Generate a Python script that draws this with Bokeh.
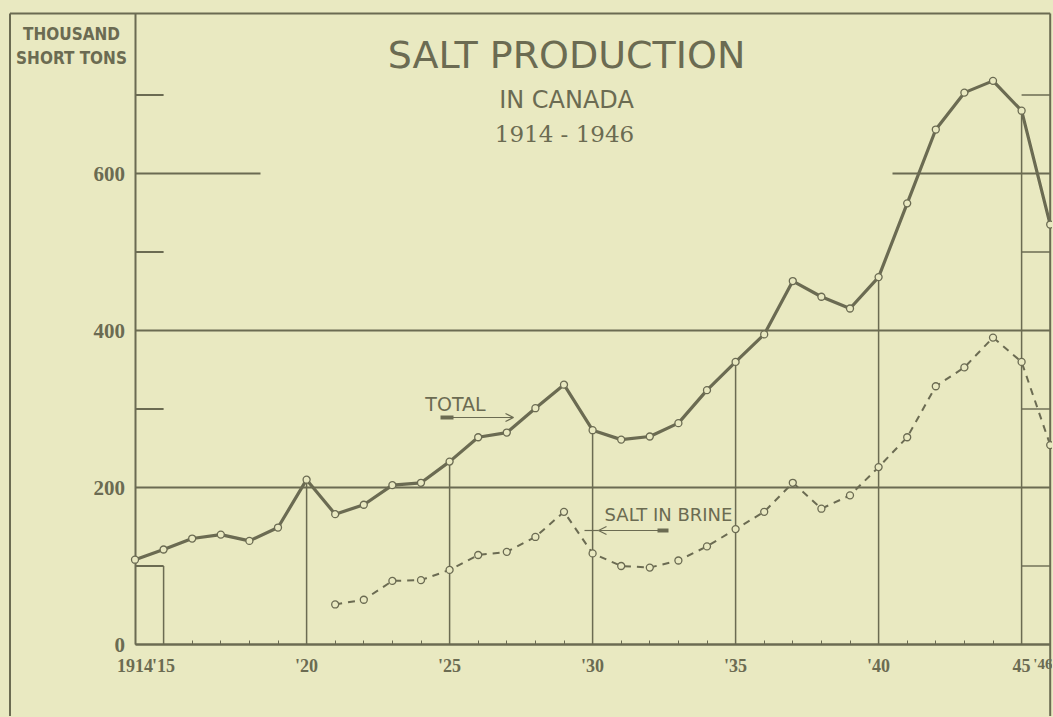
from bokeh.plotting import figure
from bokeh.models import Range1d, LinearAxis, FixedTicker, Label, Arrow, OpenHead
from bokeh.embed import file_html
from bokeh.resources import INLINE

# ---------------- data ----------------
years = list(range(1914, 1947))
total = [108, 121, 135, 140, 132, 149, 210, 166, 178, 203, 206, 233, 264, 270,
         301, 331, 273, 261, 265, 282, 324, 360, 395, 463, 443, 428, 468, 562,
         656, 703, 718, 680, 535]
brine_years = list(range(1921, 1947))
brine = [51, 57, 81, 82, 95, 114, 118, 137, 169, 116, 100, 98, 107, 125, 147,
         169, 206, 173, 190, 226, 264, 329, 353, 391, 360, 254]

y_ticks = [0, 200, 400, 600]
y_tick_labels = ["0", "200", "400", "600"]
x_ticks = [1914, 1915, 1920, 1925, 1930, 1935, 1940, 1945]
x_tick_labels = ["1914", "'15", "'20", "'25", "'30", "'35", "'40", "45"]
last_tick_label = "'46"
drop_years = [1920, 1925, 1930, 1935, 1940, 1945]
full_grid = [200, 400]
short_grid = [100, 300, 500, 700]
long_grid = 600

title_main = "SALT PRODUCTION"
title_sub = "IN CANADA"
title_years = "1914 - 1946"
unit_lines = ["THOUSAND", "SHORT TONS"]
label_total = "TOTAL"
label_brine = "SALT IN BRINE"

# ---------------- layout ----------------
BG = "#e9e9c1"
INK = "#6b6b52"
W, H = 1052, 716
X0_PX, Y0_PX = 134.5, 644.0      # canvas position of (1914, 0)
PX_YEAR, PX_UNIT = 28.6, 0.785
SANS_C = "'DejaVu Sans Condensed', 'Liberation Sans'"
SERIF = "Liberation Serif"

x_start = years[0] - X0_PX / PX_YEAR
x_end = years[0] + (W - X0_PX) / PX_YEAR
y_start = -(H - Y0_PX) / PX_UNIT
y_end = Y0_PX / PX_UNIT


def cx(px):
    return years[0] + (px - X0_PX) / PX_YEAR


def cy(py):
    return (Y0_PX - py) / PX_UNIT


top_val = cy(13)
left_border = cx(9.5)
right_border = years[-1]

p = figure(width=W, height=H, x_range=Range1d(x_start, x_end),
           y_range=Range1d(y_start, y_end), output_backend="svg",
           toolbar_location=None, x_axis_location=None, y_axis_location=None,
           min_border=0)
p.background_fill_color = BG
p.border_fill_color = BG
p.outline_line_color = None
p.grid.visible = False

# outer frame
p.segment(x0=[left_border, left_border, right_border],
          y0=[y_start, top_val, y_start],
          x1=[left_border, right_border, right_border],
          y1=[top_val, top_val, top_val], line_color=INK, line_width=2)

# rules
p.segment(x0=[years[0]] * len(full_grid), y0=full_grid,
          x1=[right_border] * len(full_grid), y1=full_grid,
          line_color=INK, line_width=2.2)
p.segment(x0=[years[0]] * len(short_grid), y0=short_grid,
          x1=[years[1]] * len(short_grid), y1=short_grid,
          line_color=INK, line_width=1.8)
p.segment(x0=[drop_years[-1]] * len(short_grid), y0=short_grid,
          x1=[right_border] * len(short_grid), y1=short_grid,
          line_color=INK, line_width=1.4)
p.segment(x0=[years[0], cx(892)], y0=[long_grid, long_grid],
          x1=[cx(260), right_border], y1=[long_grid, long_grid],
          line_color=INK, line_width=1.8)

# drop lines
drop_vals = [total[years.index(y)] for y in drop_years]
p.segment(x0=drop_years, y0=[0] * len(drop_years), x1=drop_years, y1=drop_vals,
          line_color=INK, line_width=1.5)
p.segment(x0=[years[1]], y0=[0], x1=[years[1]], y1=[short_grid[0]],
          line_color=INK, line_width=1.5)

# series
p.line(brine_years, brine, line_color=INK, line_width=2, line_dash="7 6")
p.scatter(brine_years, brine, marker="circle", size=7, fill_color=BG,
          line_color=INK, line_width=1.3)
p.line(years, total, line_color=INK, line_width=3.2)
p.scatter(years, total, marker="circle", size=7, fill_color=BG,
          line_color=INK, line_width=1.3)

# axes
yaxis = LinearAxis(fixed_location=years[0], bounds=(0, top_val),
                   ticker=FixedTicker(ticks=y_ticks),
                   major_label_overrides=dict(zip(y_ticks, y_tick_labels)),
                   axis_line_color=INK, axis_line_width=2,
                   major_tick_in=0, major_tick_out=0,
                   minor_tick_line_color=None,
                   major_label_standoff=10,
                   major_label_text_font=SERIF,
                   major_label_text_font_style="bold",
                   major_label_text_font_size="21px",
                   major_label_text_color=INK, level="underlay")
p.add_layout(yaxis, "left")

xaxis = LinearAxis(fixed_location=0, bounds=(years[0], right_border),
                   ticker=FixedTicker(ticks=x_ticks, minor_ticks=years),
                   major_label_overrides=dict(zip(x_ticks, x_tick_labels)),
                   axis_line_color=INK, axis_line_width=2.5,
                   major_tick_in=4, major_tick_out=0,
                   major_tick_line_color=INK, major_tick_line_width=1,
                   minor_tick_in=4, minor_tick_out=0,
                   minor_tick_line_color=INK, minor_tick_line_width=1,
                   major_label_standoff=11,
                   major_label_text_font=SERIF,
                   major_label_text_font_style="bold",
                   major_label_text_font_size="18px",
                   major_label_text_color=INK, level="underlay")
p.add_layout(xaxis, "below")

# last year label, smaller and tucked against the right edge as in the source
p.add_layout(Label(x=cx(1052), y=cy(655), text=last_tick_label, text_align="right",
                   text_baseline="top", text_font=SERIF, text_font_style="bold",
                   text_font_size="15px", text_color=INK))

# titles
p.add_layout(Label(x=cx(566), y=cy(54), text=title_main, text_align="center",
                   text_baseline="middle", text_font="DejaVu Sans",
                   text_font_size="38px", text_color=INK))
p.add_layout(Label(x=cx(566), y=cy(99), text=title_sub, text_align="center",
                   text_baseline="middle", text_font="DejaVu Sans",
                   text_font_size="24px", text_color=INK))
p.add_layout(Label(x=cx(564), y=cy(133), text=title_years, text_align="center",
                   text_baseline="middle", text_font="DejaVu Serif",
                   text_font_size="23px", text_color=INK))
for line, py in zip(unit_lines, [33.5, 57.5]):
    p.add_layout(Label(x=cx(71), y=cy(py), text=line, text_align="center",
                       text_baseline="middle", text_font=SANS_C,
                       text_font_style="bold", text_font_size="17px",
                       text_color=INK))

# series labels and arrows
p.add_layout(Label(x=cx(455), y=cy(403), text=label_total, text_align="center",
                   text_baseline="middle", text_font="DejaVu Sans",
                   text_font_size="19px", text_color=INK))
p.add_layout(Arrow(end=OpenHead(size=8, line_color=INK, line_width=1.2),
                   x_start=cx(450), y_start=cy(417), x_end=cx(513), y_end=cy(417),
                   line_color=INK, line_width=1.2))
p.add_layout(Arrow(end=None, x_start=cx(440), y_start=cy(417),
                   x_end=cx(453), y_end=cy(417), line_color=INK, line_width=4))

p.add_layout(Label(x=cx(668), y=cy(514), text=label_brine, text_align="center",
                   text_baseline="middle", text_font="DejaVu Sans",
                   text_font_size="18px", text_color=INK))
p.add_layout(Arrow(end=OpenHead(size=8, line_color=INK, line_width=1.2),
                   x_start=cx(660), y_start=cy(530), x_end=cx(598), y_end=cy(530),
                   line_color=INK, line_width=1.2))
p.add_layout(Arrow(end=None, x_start=cx(598), y_start=cy(530),
                   x_end=cx(584), y_end=cy(530), line_color=INK, line_width=1.2))
p.add_layout(Arrow(end=None, x_start=cx(657), y_start=cy(530),
                   x_end=cx(668), y_end=cy(530), line_color=INK, line_width=4))

html = file_html(p, INLINE, title="Salt production in Canada")
html = html.replace("<head>", "<head><style>html, body {background: %s;}</style>" % BG, 1)
open("out.html", "w").write(html)
